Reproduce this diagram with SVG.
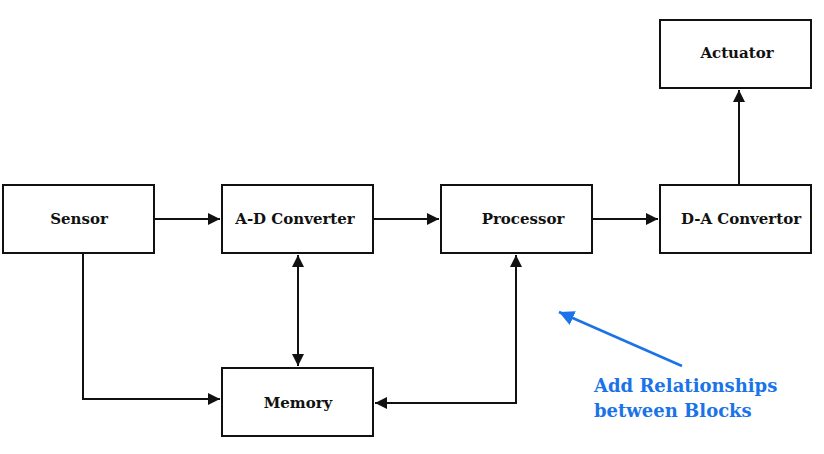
<svg xmlns="http://www.w3.org/2000/svg" width="824" height="454" viewBox="0 0 824 454">
<defs>
<style>
.box{fill:#fff;stroke:#111;stroke-width:2}
.lbl{font-family:"DejaVu Serif","Liberation Serif",serif;font-weight:bold;font-size:15px;fill:#111;text-anchor:middle;dominant-baseline:central}
.ln{fill:none;stroke:#111;stroke-width:2}
.note{font-family:"DejaVu Serif","Liberation Serif",serif;font-weight:bold;font-size:18px;fill:#1a73e8}
</style>
<marker id="ah" viewBox="0 0 10 10" refX="10" refY="5" markerWidth="6" markerHeight="6" markerUnits="strokeWidth" orient="auto-start-reverse"><path d="M0,0 L10,5 L0,10 z" fill="#111"/></marker>
<marker id="bh" viewBox="0 0 10 10" refX="10" refY="5" markerWidth="6" markerHeight="6" markerUnits="strokeWidth" orient="auto"><path d="M0,0 L10,5 L0,10 z" fill="#1a73e8"/></marker>
</defs>
<rect width="824" height="454" fill="#fff"/>
<g id="sensor"><rect class="box" x="3" y="185" width="151" height="68"/><text class="lbl" x="79" y="219">Sensor</text></g>
<g id="adc"><rect class="box" x="222" y="185" width="151" height="68"/><text class="lbl" x="295" y="219">A-D Converter</text></g>
<g id="processor"><rect class="box" x="441" y="185" width="151" height="68"/><text class="lbl" x="523" y="219">Processor</text></g>
<g id="dac"><rect class="box" x="660" y="185" width="151" height="68"/><text class="lbl" x="741" y="219">D-A Convertor</text></g>
<g id="actuator"><rect class="box" x="660" y="20" width="151" height="68"/><text class="lbl" x="737" y="53">Actuator</text></g>
<g id="memory"><rect class="box" x="222" y="368" width="151" height="68"/><text class="lbl" x="298" y="403">Memory</text></g>
<g id="connectors">
<path class="ln" d="M155,219 H220" marker-end="url(#ah)"/>
<path class="ln" d="M374,219 H439" marker-end="url(#ah)"/>
<path class="ln" d="M593,219 H658" marker-end="url(#ah)"/>
<path class="ln" d="M739,184 V90" marker-end="url(#ah)"/>
<path class="ln" d="M83,254 V399 H220" marker-end="url(#ah)"/>
<path class="ln" d="M298,255 V366" marker-start="url(#ah)" marker-end="url(#ah)"/>
<path class="ln" d="M375,403 H516 V255" marker-start="url(#ah)" marker-end="url(#ah)"/>
</g>
<g id="annotation">
<path d="M682,366 L559,312" fill="none" stroke="#1a73e8" stroke-width="2.5" marker-end="url(#bh)"/>
<text class="note" x="594" y="392">Add Relationships</text>
<text class="note" x="594" y="417">between Blocks</text>
</g>
</svg>
